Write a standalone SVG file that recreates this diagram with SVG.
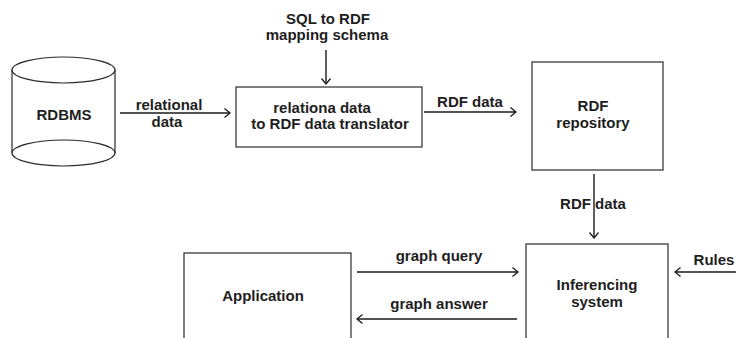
<svg xmlns="http://www.w3.org/2000/svg" width="736" height="338" viewBox="0 0 736 338">
  <style>
    .box { fill: #ffffff; stroke: #2a2a2a; stroke-width: 1.2; }
    .lbl { font-family: "Liberation Sans", Arial, sans-serif; font-weight: bold; font-size: 15px; fill: #1e1e1e; text-anchor: middle; }
    .edge { stroke: #1a1a1a; stroke-width: 1.4; fill: none; marker-end: url(#open); }
  </style>
  <defs>
    <marker id="open" markerUnits="userSpaceOnUse" markerWidth="10" markerHeight="12" refX="6" refY="5" orient="auto">
      <path d="M0.5,0.5 L6,5 L0.5,9.5" fill="none" stroke="#1a1a1a" stroke-width="1.3"/>
    </marker>
  </defs>
  <rect width="736" height="338" fill="#ffffff"/>

  <!-- database cylinder -->
  <g id="rdbms">
    <path class="box" d="M12,70 L12,153 A51.5,13 0 0 0 115,153 L115,70"/>
    <ellipse class="box" cx="63.5" cy="70" rx="51.5" ry="13"/>
    <path d="M12,153 A51.5,13 0 0 1 115,153" fill="none" stroke="#2a2a2a" stroke-width="1.2"/>
    <text class="lbl" x="64" y="120">RDBMS</text>
  </g>

  <g id="mapping">
    <text class="lbl" x="328" y="23.5">SQL to RDF</text>
    <text class="lbl" x="327" y="39.5">mapping schema</text>
  </g>

  <g id="translator">
    <rect class="box" x="236" y="87" width="186" height="60"/>
    <text class="lbl" x="322" y="113">relationa data</text>
    <text class="lbl" x="330" y="129">to RDF data translator</text>
  </g>

  <g id="repository">
    <rect class="box" x="532" y="62" width="131" height="108"/>
    <text class="lbl" x="593" y="111">RDF</text>
    <text class="lbl" x="593" y="128">repository</text>
  </g>

  <g id="inferencing">
    <rect class="box" x="526" y="244" width="142" height="100"/>
    <text class="lbl" x="597" y="290">Inferencing</text>
    <text class="lbl" x="597" y="307">system</text>
  </g>

  <g id="application">
    <rect class="box" x="184" y="253" width="167" height="90"/>
    <text class="lbl" x="263" y="301">Application</text>
  </g>

  <g id="rules">
    <text class="lbl" x="714" y="265">Rules</text>
  </g>

  <g id="connectors">
    <line class="edge" x1="120" y1="113" x2="230" y2="113"/>
    <text class="lbl" x="169" y="110">relational</text>
    <text class="lbl" x="167" y="127">data</text>

    <line class="edge" x1="326" y1="50" x2="326" y2="84"/>

    <line class="edge" x1="424" y1="112" x2="516" y2="112"/>
    <text class="lbl" x="470" y="107">RDF data</text>

    <line class="edge" x1="594" y1="174" x2="594" y2="238"/>
    <text class="lbl" x="593" y="209">RDF data</text>

    <line class="edge" x1="736" y1="272" x2="675" y2="272"/>

    <line class="edge" x1="357" y1="272" x2="518" y2="272"/>
    <text class="lbl" x="439" y="261">graph query</text>

    <line class="edge" x1="517" y1="319" x2="357" y2="319"/>
    <text class="lbl" x="439" y="309">graph answer</text>
  </g>
</svg>
